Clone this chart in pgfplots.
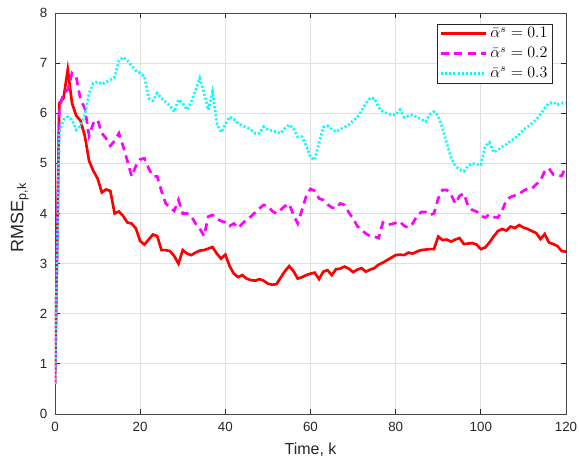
\documentclass[border=0pt]{standalone}
\usepackage{fontspec}
\setmainfont{Liberation Sans}
\usepackage{pgfplots}
\usepackage{pgfplotstable}
\pgfplotsset{compat=1.18}
\definecolor{mred}{rgb}{1,0,0}
\definecolor{mmag}{rgb}{1,0,1}
\definecolor{mcyan}{rgb}{0,1,1}
\definecolor{axgray}{RGB}{38,38,38}
\definecolor{gridgray}{RGB}{223,223,223}
\pgfplotstableread{
k v
0 0.6
1 6.2
2 6.3
3 6.87
4 6.2
5 5.95
6 5.85
7 5.55
8 5.05
9 4.85
10 4.7
11 4.42
12 4.48
13 4.45
14 4.0
15 4.04
16 3.95
17 3.82
18 3.8
19 3.7
20 3.45
21 3.38
22 3.48
23 3.58
24 3.55
25 3.27
26 3.27
27 3.25
28 3.15
29 3.0
30 3.27
31 3.2
32 3.17
33 3.22
34 3.26
35 3.27
36 3.3
37 3.33
38 3.2
39 3.1
40 3.18
41 2.95
42 2.8
43 2.73
44 2.77
45 2.7
46 2.67
47 2.66
48 2.69
49 2.66
50 2.6
51 2.58
52 2.59
53 2.72
54 2.85
55 2.95
56 2.85
57 2.7
58 2.73
59 2.77
60 2.8
61 2.82
62 2.69
63 2.84
64 2.87
65 2.77
66 2.89
67 2.9
68 2.94
69 2.9
70 2.83
71 2.88
72 2.91
73 2.84
74 2.88
75 2.91
76 2.98
77 3.02
78 3.07
79 3.12
80 3.17
81 3.18
82 3.17
83 3.22
84 3.2
85 3.24
86 3.27
87 3.28
88 3.29
89 3.29
90 3.54
91 3.47
92 3.48
93 3.44
94 3.48
95 3.51
96 3.39
97 3.4
98 3.41
99 3.38
100 3.29
101 3.32
102 3.42
103 3.54
104 3.65
105 3.69
106 3.66
107 3.74
108 3.71
109 3.77
110 3.72
111 3.69
112 3.65
113 3.61
114 3.49
115 3.59
116 3.42
117 3.39
118 3.35
119 3.25
120 3.24
}\redtab
\pgfplotstableread{
k v
0 0.6
1 6.1
2 6.4
3 6.47
4 6.8
5 6.72
6 6.27
7 6.1
8 5.55
9 5.8
10 5.87
11 5.6
12 5.5
13 5.35
14 5.45
15 5.6
16 5.34
17 5.05
18 4.74
19 4.95
20 5.08
21 5.1
22 4.9
23 4.74
24 4.74
25 4.45
26 4.2
27 4.12
28 4.05
29 4.27
30 4.0
31 4.0
32 3.95
33 3.8
34 3.7
35 3.55
36 3.94
37 3.97
38 3.9
39 3.85
40 3.82
41 3.75
42 3.8
43 3.71
44 3.8
45 3.88
46 3.94
47 4.02
48 4.1
49 4.17
50 4.15
51 4.05
52 4.0
53 4.07
54 4.15
55 4.19
56 3.97
57 3.8
58 4.07
59 4.35
60 4.49
61 4.45
62 4.3
63 4.27
64 4.18
65 4.12
66 4.1
67 4.2
68 4.17
69 4.02
70 3.9
71 3.75
72 3.67
73 3.6
74 3.55
75 3.54
76 3.51
77 3.82
78 3.77
79 3.79
80 3.81
81 3.84
82 3.75
83 3.72
84 3.8
85 3.95
86 4.03
87 4.03
88 3.97
89 4.0
90 4.3
91 4.47
92 4.47
93 4.38
94 4.2
95 4.35
96 4.4
97 4.15
98 4.07
99 4.04
100 3.95
101 3.92
102 3.98
103 3.93
104 3.92
105 4.05
106 4.27
107 4.33
108 4.36
109 4.39
110 4.45
111 4.5
112 4.5
113 4.58
114 4.66
115 4.84
116 4.9
117 4.78
118 4.76
119 4.75
120 4.95
}\magtab
\pgfplotstableread{
k v
0 0.6
1 5.6
2 5.87
3 5.93
4 5.87
5 5.67
6 5.75
7 5.97
8 6.4
9 6.6
10 6.63
11 6.58
12 6.62
13 6.67
14 6.72
15 7.05
16 7.12
17 7.05
18 6.95
19 6.85
20 6.8
21 6.73
22 6.3
23 6.25
24 6.4
25 6.3
26 6.22
27 6.15
28 6.03
29 6.27
30 6.2
31 6.07
32 6.23
33 6.45
34 6.7
35 6.4
36 6.07
37 6.43
38 5.8
39 5.62
40 5.78
41 5.93
42 5.88
43 5.8
44 5.75
45 5.72
46 5.67
47 5.6
48 5.6
49 5.73
50 5.67
51 5.65
52 5.63
53 5.6
54 5.7
55 5.77
56 5.7
57 5.53
58 5.53
59 5.35
60 5.12
61 5.07
62 5.4
63 5.72
64 5.75
65 5.68
66 5.63
67 5.68
68 5.72
69 5.77
70 5.85
71 5.92
72 6.05
73 6.2
74 6.3
75 6.3
76 6.12
77 6.03
78 6.0
79 5.97
80 5.97
81 6.07
82 5.92
83 5.95
84 5.97
85 5.92
86 5.88
87 5.83
88 5.98
89 6.03
90 5.95
91 5.7
92 5.4
93 5.12
94 4.95
95 4.88
96 4.84
97 4.95
98 5.0
99 4.98
100 4.97
101 5.34
102 5.42
103 5.22
104 5.27
105 5.33
106 5.38
107 5.45
108 5.5
109 5.58
110 5.67
111 5.73
112 5.8
113 5.87
114 5.98
115 6.1
116 6.2
117 6.22
118 6.17
119 6.2
120 6.2
}\cyantab
\begin{document}
\begin{tikzpicture}
\begin{axis}[
  scale only axis, width=383.25pt, height=300.75pt,
  xmin=0, xmax=120, ymin=0, ymax=8,
  xtick={0,20,...,120}, ytick={0,1,...,8},
  grid=major, major grid style={gridgray, line width=0.6pt},
  axis line style={axgray!85, line width=0.6pt},
  tick style={axgray, line width=0.6pt},
  tick align=inside, major tick length=4pt,
  /pgf/number format/assume math mode=true,
  tick label style={font=\fontsize{10}{12}\selectfont, text=axgray, inner sep=0pt},
  xticklabel style={yshift=-5.6pt},
  yticklabel style={xshift=-5.5pt},
  xlabel={Time, k},
  ylabel={RMSE\textsubscript{p,k}},
  xlabel style={font=\fontsize{12}{14}\selectfont, text=axgray, at={(axis description cs:0.5,-0.1022)}, anchor=base, inner sep=0pt},
  ylabel style={font=\fontsize{13.5}{16}\selectfont, text=axgray, at={(axis description cs:-0.062,0.49)}, anchor=base, inner sep=0pt},
  legend style={at={(0.9746,0.9726)}, anchor=north east, draw=axgray, fill=white,
    font=\fontsize{11.5}{14}\selectfont, inner xsep=2pt, inner ysep=0.5pt, row sep=1.6pt},
  legend cell align=left,
  legend image code/.code={\draw[#1] (0pt,0pt) -- (34pt,0pt);},
]
\addplot[mred, line width=2pt] table[x=k, y=v] {\redtab};
\addplot[mmag, line width=2pt, dash pattern=on 6pt off 4pt] table[x=k, y=v] {\magtab};
\addplot[mcyan, line width=2pt, dash pattern=on 1.5pt off 1.6pt] table[x=k, y=v] {\cyantab};
\legend{$\bar{\alpha}^s=0.1$, $\bar{\alpha}^s=0.2$, $\bar{\alpha}^s=0.3$}
\end{axis}
\pgfresetboundingbox
\path[use as bounding box] (-41.25pt,-37.5pt) rectangle (393pt,310.5pt);
\end{tikzpicture}
\end{document}
